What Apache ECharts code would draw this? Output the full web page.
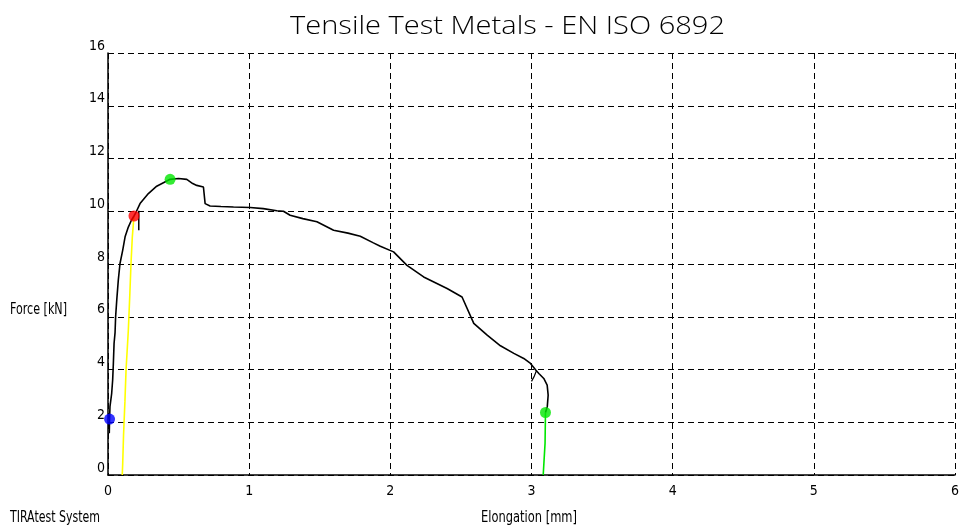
<!DOCTYPE html>
<html>
<head>
<meta charset="utf-8">
<title>Tensile Test Metals - EN ISO 6892</title>
<script src="https://cdn.jsdelivr.net/npm/echarts@6/dist/echarts.min.js"></script>
<style>
  html, body { margin: 0; padding: 0; background: #fff; }
  #chart { width: 965px; height: 528px; }
</style>
</head>
<body>
<div id="chart"></div>
<script>
// Axis ranges and ticks
const xTicks = [0, 1, 2, 3, 4, 5, 6];
const yTicks = [0, 2, 4, 6, 8, 10, 12, 14, 16];

// Force-elongation curve: [elongation mm, force kN]
const testCurve = [
  [0.009, 1.58], [0.011, 2.12], [0.014, 2.59], [0.026, 3.09], [0.033, 3.60],
  [0.038, 4.23], [0.043, 4.99], [0.050, 5.40], [0.054, 6.00], [0.062, 6.63],
  [0.073, 7.39], [0.085, 8.02], [0.104, 8.52], [0.121, 9.03], [0.144, 9.40],
  [0.165, 9.65], [0.184, 9.82], [0.200, 9.98], [0.227, 10.29], [0.286, 10.67],
  [0.345, 10.95], [0.440, 11.21], [0.500, 11.24], [0.558, 11.21], [0.600, 11.05],
  [0.629, 10.98], [0.676, 10.92], [0.688, 10.29], [0.723, 10.20], [0.800, 10.18],
  [0.889, 10.16], [1.007, 10.14], [1.100, 10.10], [1.196, 10.02], [1.243, 10.00],
  [1.290, 9.85], [1.380, 9.72], [1.480, 9.60], [1.598, 9.28], [1.700, 9.17],
  [1.787, 9.05], [1.880, 8.80], [1.929, 8.67], [2.023, 8.46], [2.118, 7.95],
  [2.236, 7.51], [2.402, 7.07], [2.508, 6.75], [2.591, 5.75], [2.686, 5.30],
  [2.780, 4.90], [2.875, 4.61], [2.945, 4.42], [2.993, 4.23], [3.030, 3.98],
  [3.052, 3.85], [3.087, 3.66], [3.111, 3.41], [3.118, 3.03], [3.112, 2.60],
  [3.099, 2.37]
];

// Short unloading spikes on the curve
const spikeNearYield = [[0.218, 10.02], [0.218, 9.28]];
const spikeNearBreak = [[3.035, 3.95], [3.020, 3.75], [3.000, 3.55]];

// Elastic modulus line (yellow) up to the yield point
const elasticLine = [
  [0.101, 0.00], [0.104, 0.40], [0.110, 1.50], [0.120, 2.80], [0.128, 4.00],
  [0.144, 5.49], [0.155, 6.90], [0.163, 8.02], [0.172, 9.00], [0.184, 9.82]
];

// Fracture line (green) from break point down to zero force
const fractureLine = [[3.099, 2.37], [3.096, 1.20], [3.087, 1.15], [3.083, 0.00]];

// Characteristic points
const startPoint = [0.011, 2.12];   // blue
const yieldPoint = [0.184, 9.82];   // red
const maxPoint = [0.440, 11.21];    // green (Fm)
const breakPoint = [3.099, 2.37];   // green (break)

// Texts
const titleText = 'Tensile Test Metals - EN ISO 6892';
const yAxisName = 'Force [kN]';
const xAxisName = 'Elongation [mm]';
const footerText = 'TIRAtest System';

const labelFont = "'Liberation Sans Narrow', 'DejaVu Sans Condensed', 'Liberation Sans', sans-serif";
const titleFont = "300 25px 'Open Sans', 'Liberation Sans', sans-serif";

// Horizontal scale so a text fills a given width in pixels
const measureCtx = document.createElement('canvas').getContext('2d');
function fitScale(text, font, width) {
  measureCtx.font = font;
  return width / measureCtx.measureText(text).width;
}

const chart = echarts.init(document.getElementById('chart'), null, { renderer: 'canvas' });

function lineSeries(data, color, width, z) {
  return {
    type: 'line', data: data, showSymbol: false, symbol: 'none',
    lineStyle: { color: color, width: width }, silent: true, animation: false, z: z
  };
}
function dotSeries(pt, color) {
  return {
    type: 'scatter', data: [pt], symbol: 'circle', symbolSize: 11,
    itemStyle: { color: color }, silent: true, animation: false, z: 10
  };
}
function textItem(text, font, x, y, width) {
  return {
    type: 'text', x: x, y: y, originX: 0, scaleX: fitScale(text, font, width),
    style: { text: text, font: font, fill: '#000', align: 'left', verticalAlign: 'middle' },
    silent: true
  };
}

const labelFontCss = "15px " + labelFont;

chart.setOption({
  backgroundColor: '#ffffff',
  animation: false,
  graphic: [
    textItem(titleText, titleFont, 290, 27, 435),
    textItem(yAxisName, labelFontCss, 10, 310, 57),
    textItem(footerText, labelFontCss, 10, 518, 90),
    textItem(xAxisName, labelFontCss, 481, 518, 96)
  ],
  grid: { left: 108, right: 10, top: 53, bottom: 53, containLabel: false },
  xAxis: {
    type: 'value', min: xTicks[0], max: xTicks[xTicks.length - 1], interval: 1,
    axisLine: { show: true, onZero: false, lineStyle: { color: '#000', width: 1.5 } },
    axisTick: { show: false },
    axisLabel: { margin: 9, color: '#000', fontFamily: labelFont, fontSize: 14 },
    splitLine: { show: true, lineStyle: { color: '#000', width: 1, type: [6, 4] } }
  },
  yAxis: {
    type: 'value', min: yTicks[0], max: yTicks[yTicks.length - 1], interval: 2,
    axisLine: { show: true, onZero: false, lineStyle: { color: '#000', width: 1.5 } },
    axisTick: { show: false },
    axisLabel: { margin: 3, color: '#000', fontFamily: labelFont, fontSize: 14, verticalAlign: 'bottom' },
    splitLine: { show: true, lineStyle: { color: '#000', width: 1, type: [6, 4] } }
  },
  series: [
    lineSeries(elasticLine, '#ffff00', 1.6, 3),
    lineSeries(fractureLine, '#00e600', 1.6, 3),
    lineSeries(testCurve, '#000000', 1.6, 4),
    lineSeries(spikeNearYield, '#000000', 1.5, 4),
    lineSeries(spikeNearBreak, '#000000', 1.2, 4),
    dotSeries(startPoint, '#0000ff'),
    dotSeries(yieldPoint, '#ff0000'),
    dotSeries(maxPoint, '#00e600'),
    dotSeries(breakPoint, '#00e600')
  ]
});
</script>
</body>
</html>
